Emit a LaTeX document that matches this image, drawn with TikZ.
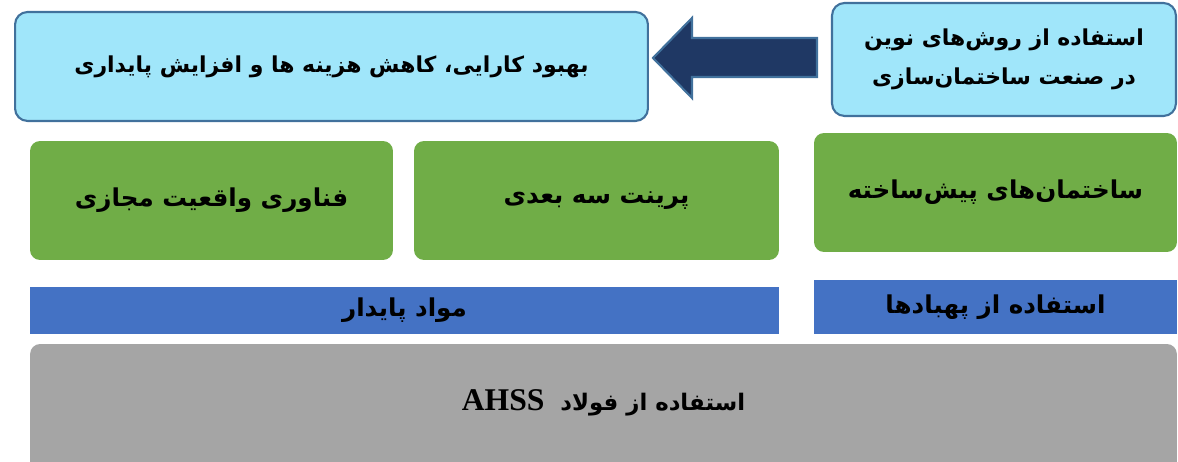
\documentclass[tikz,border=0pt]{standalone}
\usepackage{fontspec}
\usetikzlibrary{calc}
\TeXXeTstate=1
\setmainfont{Liberation Serif}
\newfontfamily\farsi[Script=Arabic]{DejaVu Sans}

\definecolor{skyfill}{RGB}{160,230,250}
\definecolor{skyline}{RGB}{65,113,156}
\definecolor{arrowfill}{RGB}{31,56,100}
\definecolor{leaf}{RGB}{112,173,71}
\definecolor{barblue}{RGB}{68,114,196}
\definecolor{steelgray}{RGB}{165,165,165}

\begin{document}
\begin{tikzpicture}[x=0.02cm, y=-0.02cm,
    skybox/.style={draw=skyline, fill=skyfill, line width=1.2pt, rounded corners=0.25cm,
        align=center, font=\farsi\bfseries\fontsize{12.5}{22}\selectfont},
    greenbox/.style={fill=leaf, rounded corners=0.2cm, minimum width=7.26cm, minimum height=2.38cm,
        font=\farsi\bfseries\fontsize{14}{18}\selectfont},
    bar/.style={fill=barblue, minimum height=0.94cm, font=\farsi\bfseries\fontsize{14}{17}\selectfont},
    flatbox/.style={fill=steelgray, rounded corners=0.2cm, font=\farsi\bfseries\fontsize{13}{17}\selectfont}]
    \useasboundingbox (0,0) rectangle (1178,462);

    % Top row
    \node[skybox, minimum width=12.66cm, minimum height=2.18cm] (goal) at (331.5,66.5)
        {\beginR بهبود کارایی، کاهش هزینه ها و افزایش پایداری\endR};
    \node[skybox, minimum width=6.88cm, minimum height=2.26cm] (methods) at (1004,59.5)
        {\beginR استفاده از روش‌های نوین\endR\\ \beginR در صنعت ساختمان‌سازی\endR};

    % Block arrow
    \coordinate (tip) at ($(goal.east |- methods.west)+(4,-1.5)$);
    \coordinate (tail) at ($(methods.west)+(-14,-1.5)$);
    \filldraw[fill=arrowfill, draw=skyline, line width=1.2pt]
        (tip) -- ($(tip)+(39,-40)$) -- ($(tip)+(39,-20)$) -- ($(tail)+(0,-20)$)
        -- ($(tail)+(0,19)$) -- ($(tip)+(39,19)$) -- ($(tip)+(39,40)$) -- cycle;

    % Green row
    \node[greenbox] (vr) at (211.5,200.5) {\beginR فناوری واقعیت مجازی\endR};
    \node[greenbox, minimum width=7.3cm] (print) at (596.5,200.5) {\beginR پرینت سه بعدی\endR};
    \node[greenbox] (prefab) at (995.5,192.5) {\beginR ساختمان‌های پیش‌ساخته\endR};

    % Blue bars
    \node[bar, minimum width=14.98cm] (materials) at (404.5,310.5) {\beginR مواد پایدار\endR};
    \node[bar, minimum width=7.26cm, minimum height=1.08cm] (drones) at (995.5,307) {\beginR استفاده از پهبادها\endR};

    % Base (runs off the bottom edge)
    \node[flatbox, minimum width=22.94cm, minimum height=2.6cm, text depth=0.34cm] (steel) at (603.5,409)
        {\beginR استفاده از فولاد~~\beginL\rmfamily\fontsize{18}{20}\selectfont AHSS\endL\endR};
\end{tikzpicture}
\end{document}
